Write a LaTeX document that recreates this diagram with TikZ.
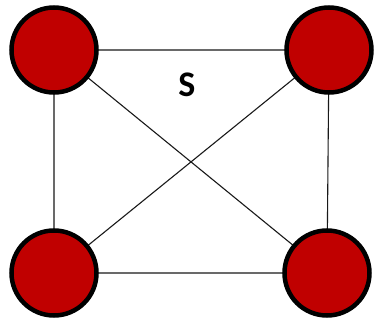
\documentclass[tikz,border=0pt]{standalone}
\usepackage{fontspec}
\setmainfont{Carlito}
\usetikzlibrary{shadows,backgrounds}
\definecolor{nodered}{HTML}{C00000}
\begin{document}
\begin{tikzpicture}[x=1pt,y=-1pt,
  vertex/.style={circle,draw=black,line width=4.5pt,fill=nodered,minimum size=85pt,inner sep=0pt,
    drop shadow={shadow xshift=1.5pt,shadow yshift=-1.5pt,opacity=0.25}},
  edge/.style={draw=black!90,line width=1.1pt}]
\useasboundingbox (0,0) rectangle (376,321);
\node[vertex] (a) at (54,50) {};
\node[vertex] (b) at (329,50) {};
\node[vertex] (c) at (54,273) {};
\node[vertex] (d) at (327,273) {};
\node[font=\fontsize{36}{40}\selectfont\bfseries] (s) at (187,85) {S};
\begin{scope}[on background layer]
\draw[edge] (a.center) -- (b.center) -- (d.center) -- (c.center) -- (a.center);
\draw[edge] (a.center) -- (d.center);
\draw[edge] (b.center) -- (c.center);
\end{scope}
\end{tikzpicture}
\end{document}
